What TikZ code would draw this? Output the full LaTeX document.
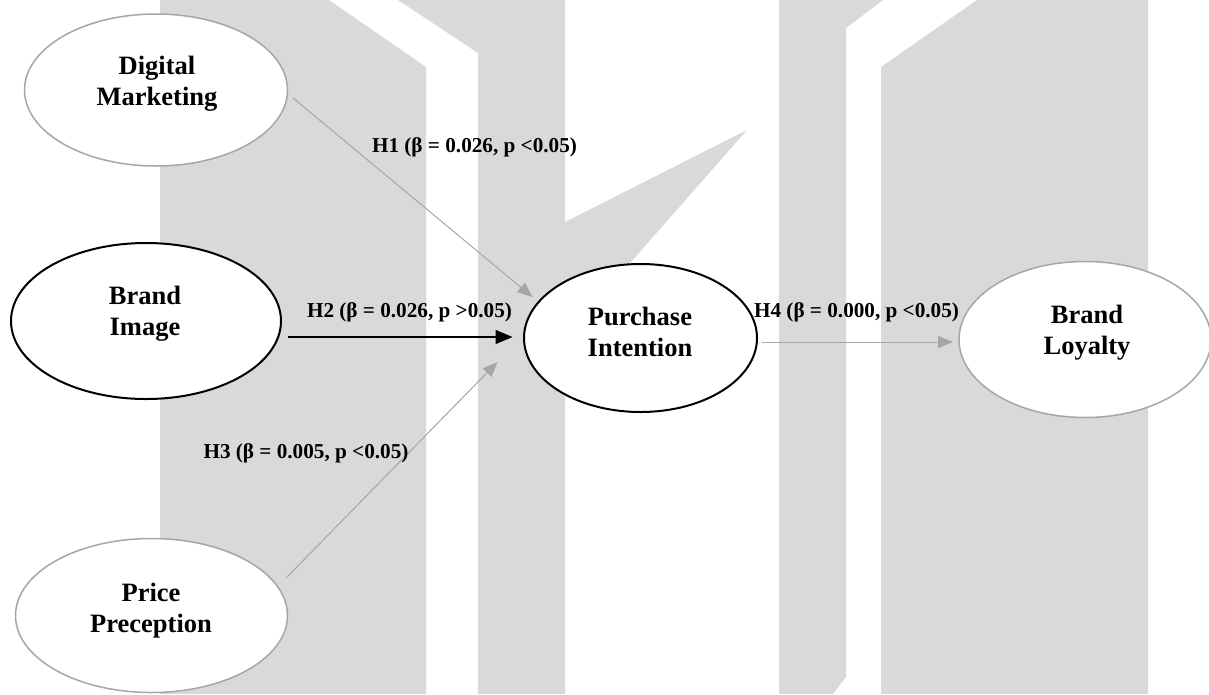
\documentclass[tikz,border=0pt]{standalone}
\usepackage{fontspec}
\setmainfont{Liberation Serif}
\usetikzlibrary{shapes.geometric,arrows.meta}
\definecolor{wm}{RGB}{217,217,217}
\definecolor{lg}{RGB}{166,166,166}
\tikzset{
  vbl/.style={ellipse, draw=black, line width=2pt, fill=white, inner sep=0pt},
  vgr/.style={ellipse, draw=lg, line width=1.5pt, fill=white, inner sep=0pt},
  ntext/.style={align=center, font=\fontsize{26.5}{31}\selectfont\bfseries, inner sep=0pt},
  lab/.style={font=\fontsize{21.2}{25}\selectfont\bfseries, inner sep=0pt},
  garr/.style={draw=lg, line width=1pt, -{Triangle[length=15pt,width=12pt]}},
  barr/.style={draw=black, line width=1.4pt, -{Triangle[length=17pt,width=14pt]}}
}
\begin{document}
\begin{tikzpicture}[x=1pt,y=-1pt]
\useasboundingbox (0,0) rectangle (1209,694);
\fill[white] (0,0) rectangle (1209,694);
% watermark
\fill[wm] (160,0) -- (329,0) -- (426,67) -- (426,694) -- (160,694) -- cycle;
\fill[wm] (398,0) -- (565,0) -- (565,222) -- (747,130) -- (565,337) -- (565,694) -- (478,694) -- (478,53) -- cycle;
\fill[wm] (779,0) -- (883,0) -- (846,28) -- (846,677) -- (833,694) -- (779,694) -- cycle;
\fill[wm] (977,0) -- (1148,0) -- (1148,694) -- (881,694) -- (881,67) -- cycle;
% nodes
\node[vgr, minimum width=263pt, minimum height=152pt] (DM) at (156,90) {};
\node[vbl, minimum width=270pt, minimum height=156pt] (BI) at (146,321) {};
\node[vgr, minimum width=272pt, minimum height=154pt] (PP) at (151.5,615.5) {};
\node[vbl, minimum width=233pt, minimum height=148pt] (PI) at (640.5,338) {};
\node[vgr, minimum width=252pt, minimum height=156pt] (BL) at (1085,339.5) {};
\node[ntext] (DMt) at (157,84) {Digital\\Marketing};
\node[ntext] (BIt) at (145,314) {Brand\\Image};
\node[ntext] (PPt) at (151,610.5) {Price\\Preception};
\node[ntext] (PIt) at (640,332) {Purchase\\Intention};
\node[ntext] (BLt) at (1087,333) {Brand\\Loyalty};
% connectors
\draw[garr] ([shift={(137,8)}]DM.center) -- ([shift={(-108,-41)}]PI.center);
\draw[barr] ([shift={(142,16)}]BI.center) -- ([shift={(-128,-1)}]PI.center);
\draw[garr] ([shift={(135,-38)}]PP.center) -- ([shift={(-143,24)}]PI.center);
\draw[garr] ([shift={(121,4)}]PI.center) -- ([shift={(-132,2.5)}]BL.center);
% labels
\node[lab] (L1) at (474.5,147) {H1 (β = 0.026, p <0.05)};
\node[lab] (L2) at (409.5,312) {H2 (β = 0.026, p >0.05)};
\node[lab] (L3) at (306,453) {H3 (β = 0.005, p <0.05)};
\node[lab] (L4) at (856.5,312) {H4 (β = 0.000, p <0.05)};
\end{tikzpicture}
\end{document}
